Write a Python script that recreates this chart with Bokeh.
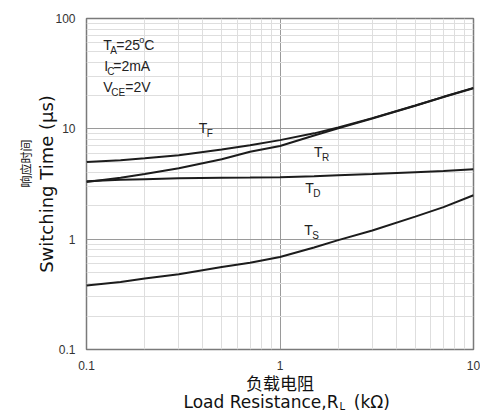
import math
from bokeh.plotting import figure
from bokeh.models import Range1d, FixedTicker, Label, Title
from bokeh.embed import file_html
from bokeh.resources import INLINE

# ---- data ----
r_load = [0.1, 0.15, 0.2, 0.3, 0.5, 0.7, 1, 1.5, 2, 3, 5, 7, 10]
t_fall = [5.0, 5.2, 5.4, 5.75, 6.5, 7.1, 7.9, 9.1, 10.3, 12.5, 16.3, 19.5, 23.5]
t_rise = [3.3, 3.6, 3.9, 4.4, 5.3, 6.2, 7.0, 8.7, 10.1, 12.4, 16.2, 19.4, 23.3]
t_delay = [3.35, 3.45, 3.5, 3.57, 3.6, 3.62, 3.65, 3.72, 3.8, 3.9, 4.05, 4.15, 4.3]
t_storage = [0.38, 0.41, 0.44, 0.48, 0.56, 0.61, 0.69, 0.84, 0.98, 1.2, 1.6, 1.95, 2.5]
x_ticks = [0.1, 1, 10]
y_ticks = [0.1, 1, 10, 100]

W, H = 480, 411
p = figure(width=W, height=H, x_axis_type="log", y_axis_type="log",
           x_range=Range1d(0.1, 10), y_range=Range1d(0.1, 100),
           output_backend="svg", toolbar_location=None,
           min_border_left=86, min_border_right=7, min_border_top=18, min_border_bottom=62)
p.background_fill_color = "white"
p.border_fill_color = "white"
p.outline_line_color = "#7a7a7a"
p.outline_line_width = 1.5

def minors(ticks):
    out = []
    for t in ticks[:-1]:
        out += [t * m for m in range(2, 10)]
    return out

p.xaxis.ticker = FixedTicker(ticks=x_ticks, minor_ticks=minors(x_ticks))
p.yaxis.ticker = FixedTicker(ticks=y_ticks, minor_ticks=minors(y_ticks))
p.xaxis.major_label_overrides = {t: f"{t:g}" for t in x_ticks}
p.yaxis.major_label_overrides = {t: f"{t:g}" for t in y_ticks}
for ax in (p.xaxis, p.yaxis):
    ax.axis_line_color = None
    ax.major_tick_line_color = None
    ax.minor_tick_line_color = None
    ax.major_label_text_font = "Liberation Sans"
    ax.major_label_text_font_size = "12px"
    ax.major_label_text_color = "#333333"
    ax.axis_label_text_color = "#111111"
    ax.axis_label_text_font_style = "normal"
p.xaxis.major_label_standoff = 5
p.yaxis.major_label_standoff = 5

p.yaxis.axis_label = "Switching Time (\u03bcs)"
p.yaxis.axis_label_text_font = "DejaVu Sans"
p.yaxis.axis_label_text_font_size = "18px"
p.yaxis.axis_label_standoff = -5

p.xaxis.axis_label = "负载电阻"
p.xaxis.axis_label_text_font = "Noto Sans CJK SC"
p.xaxis.axis_label_text_font_size = "17px"
p.xaxis.axis_label_standoff = -3

p.add_layout(Title(text="响应时间", align="left", offset=162, standoff=0,
                   text_font="Noto Sans CJK SC", text_font_size="12px",
                   text_font_style="normal", text_color="#111111"), "left")

p.add_layout(Title(text="Load Resistance,R\u2002\u2009\u2009(k\u03a9)", align="left", offset=97, standoff=-15,
                   text_font="DejaVu Sans", text_font_size="17px",
                   text_font_style="normal", text_color="#111111"), "below")
# subscript "L" of R_L, overlapping the line above
p.add_layout(Title(text="L", align="left", offset=253, standoff=-14,
                   text_font="DejaVu Sans", text_font_size="10px",
                   text_font_style="normal", text_color="#111111"), "below")

for g in (p.xgrid, p.ygrid):
    g.grid_line_color = "#9a9a9a"
    g.grid_line_width = 1
    g.minor_grid_line_color = "#dedede"
    g.minor_grid_line_width = 1

for ys in (t_fall, t_rise, t_delay, t_storage):
    p.line(r_load, ys, line_color="#1c1c1c", line_width=2)

texts = []
def lab(x, y, text, dx=0, dy=0, size=14, bg=False):
    texts.append((x, y, text, dx, dy, size, bg))

# condition block
lab(0.122, 57.4, "T", bg=True)
lab(0.122, 57.4, "A", dx=7, dy=-5, size=10, bg=True)
lab(0.122, 57.4, "=25", dx=13, bg=True)
lab(0.122, 57.4, "o", dx=36, dy=5, size=9, bg=True)
lab(0.122, 57.4, "C", dx=41, bg=True)
lab(0.122, 37.0, "I", dx=1, bg=True)
lab(0.122, 37.0, "C", dx=4, dy=-5, size=10, bg=True)
lab(0.122, 37.0, "=2mA", dx=10, bg=True)
lab(0.122, 23.9, "V", bg=True)
lab(0.122, 23.9, "CE", dx=8, dy=-5, size=10, bg=True)
lab(0.122, 23.9, "=2V", dx=22, bg=True)

# curve labels
for (x, y, sub) in [(0.380, 10.15, "F"), (1.498, 6.15, "R"), (1.349, 2.90, "D"), (1.333, 1.206, "S")]:
    lab(x, y, "T", bg=True)
    lab(x, y, sub, dx=8, dy=-5, size=10, bg=True)

for pass_bg in (True, False):
    for (x, y, text, dx, dy, size, bg) in texts:
        if pass_bg and not bg:
            continue
        l = Label(x=x, y=y, text=text, x_offset=dx, y_offset=dy,
                  text_font="Liberation Sans", text_font_size=f"{size}px",
                  text_baseline="middle", text_align="left", text_color="#222222")
        if pass_bg:
            l.text_alpha = 0
            l.background_fill_color = "white"
            l.padding = 3
        p.add_layout(l)

open("out.html", "w").write(file_html(p, INLINE))
